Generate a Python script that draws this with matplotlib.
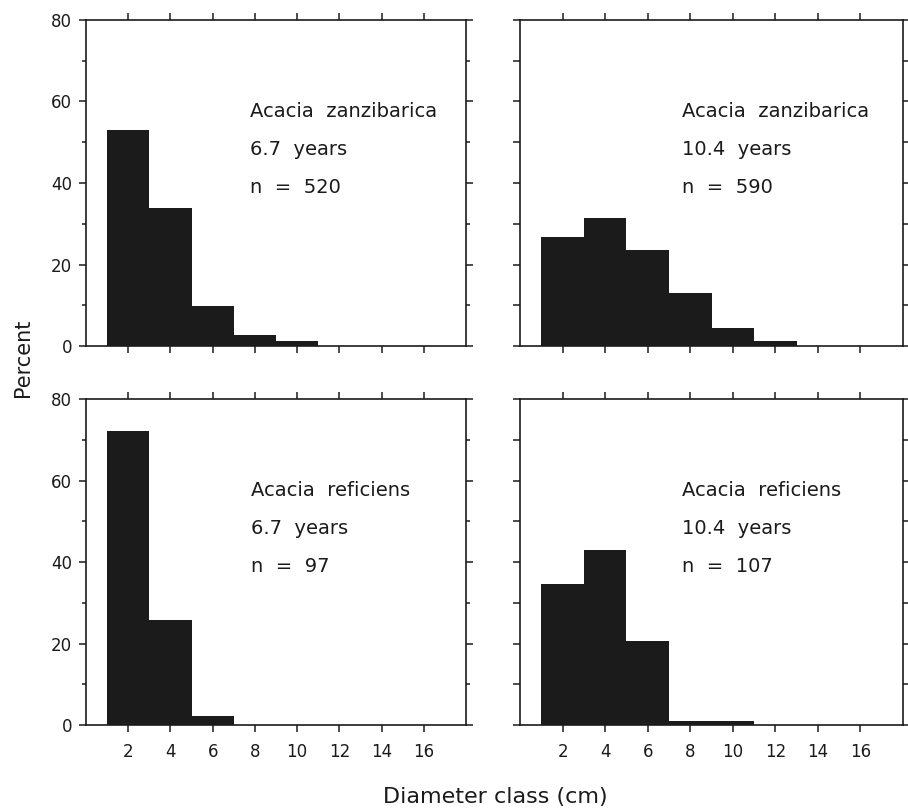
import matplotlib
matplotlib.use("Agg")
import matplotlib.pyplot as plt
from matplotlib.ticker import MultipleLocator

# Diameter classes (cm): bins of width 2 centred on even values
class_centres = [2, 4, 6, 8, 10, 12, 14, 16]
class_width = 2

# Percent of stems in each diameter class
zanzibarica_67 = [53.0, 33.9, 9.8, 2.8, 1.2, 0.0, 0.0, 0.0]
zanzibarica_104 = [26.8, 31.5, 23.6, 13.0, 4.3, 1.2, 0.0, 0.0]
reficiens_67 = [72.2, 25.8, 2.1, 0.0, 0.0, 0.0, 0.0, 0.0]
reficiens_104 = [34.6, 43.0, 20.6, 0.9, 0.9, 0.0, 0.0, 0.0]

species = ["Acacia  zanzibarica", "Acacia  zanzibarica", "Acacia  reficiens", "Acacia  reficiens"]
ages = ["6.7  years", "10.4  years", "6.7  years", "10.4  years"]
sample_sizes = [520, 590, 97, 107]
series = [zanzibarica_67, zanzibarica_104, reficiens_67, reficiens_104]

x_ticks = [2, 4, 6, 8, 10, 12, 14, 16]
y_ticks = [0, 20, 40, 60, 80]

ink = "#1b1b1b"
plt.rcParams["font.family"] = ["DejaVu Sans"]

fig = plt.figure(figsize=(9.08, 8.09), dpi=100)

# panel rectangles [left, bottom, width, height] in figure fraction
panel_rects = [
    [0.0947, 0.5723, 0.4185, 0.4030],
    [0.5727, 0.5723, 0.4218, 0.4030],
    [0.0947, 0.1038, 0.4185, 0.4030],
    [0.5727, 0.1038, 0.4218, 0.4030],
]
text_x = [7.75, 7.6, 7.8, 7.6]

for i, rect in enumerate(panel_rects):
    ax = fig.add_axes(rect)
    ax.bar(class_centres, series[i], width=class_width, color=ink,
           edgecolor="none", linewidth=0, zorder=2)
    ax.set_xlim(0, 18)
    ax.set_ylim(0, 80)
    for sp in ax.spines.values():
        sp.set_linewidth(1.2)
        sp.set_color(ink)
        sp.set_zorder(3)

    ax.xaxis.set_major_locator(plt.FixedLocator(x_ticks))
    ax.yaxis.set_major_locator(plt.FixedLocator(y_ticks))
    ax.yaxis.set_minor_locator(MultipleLocator(10))
    ax.xaxis.set_minor_locator(plt.NullLocator())

    left_col = i % 2 == 0
    bottom_row = i >= 2
    ax.tick_params(axis="x", which="major", direction="out", length=5,
                   width=1.1, color=ink, top=True, bottom=True,
                   labelbottom=bottom_row, labelsize=12, labelcolor=ink, pad=8)
    ax.tick_params(axis="y", which="both", direction="out", width=1.1,
                   color=ink, left=True, right=True,
                   labelleft=left_col, labelsize=12, labelcolor=ink, pad=5)
    ax.tick_params(axis="y", which="major", length=5)
    ax.tick_params(axis="y", which="minor", length=5 if not left_col else 3)

    ax.text(text_x[i], 57.5, species[i], fontsize=14, color=ink,
            va="center", ha="left")
    ax.text(text_x[i], 48.2, ages[i], fontsize=14, color=ink,
            va="center", ha="left")
    ax.text(text_x[i], 38.9, f"n  =  {sample_sizes[i]}", fontsize=14,
            color=ink, va="center", ha="left")

fig.text(0.025, 0.558, "Percent", rotation=90, fontsize=15, color=ink,
         ha="center", va="center")
fig.text(0.545, 0.002, "Diameter class (cm)", fontsize=16, color=ink,
         ha="center", va="bottom")

fig.savefig("out.png", dpi=100, facecolor="white")
